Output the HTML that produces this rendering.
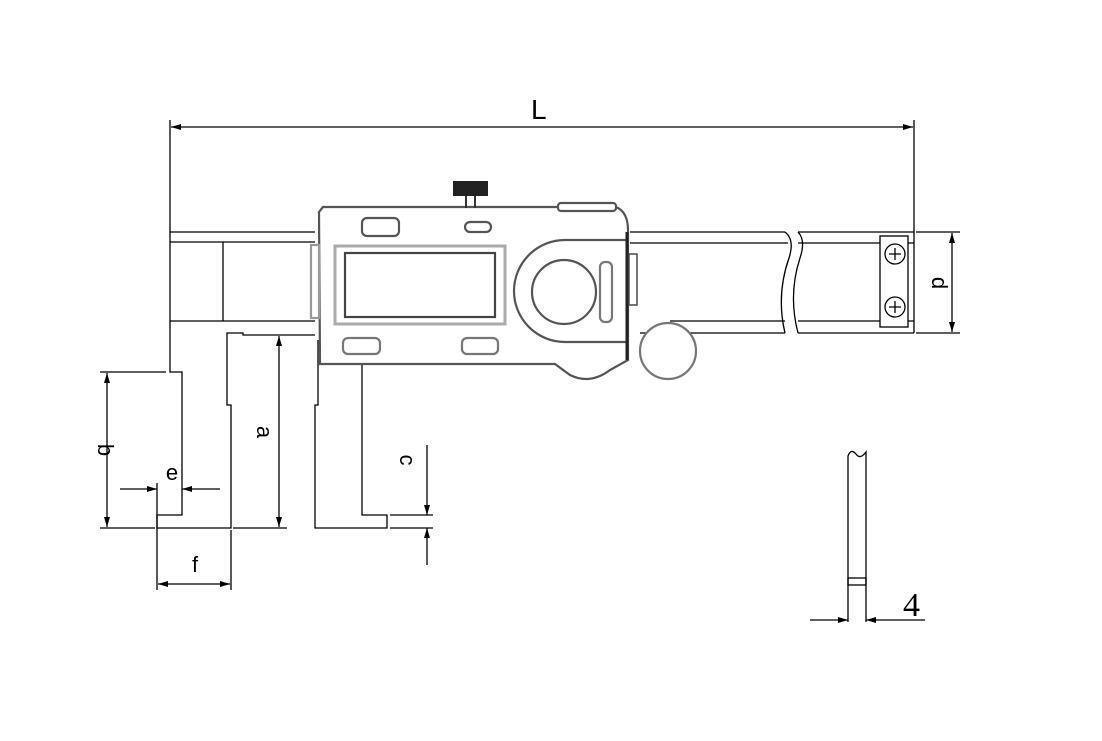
<!DOCTYPE html>
<html><head><meta charset="utf-8"><style>body{margin:0;background:#fff}svg{display:block}</style></head><body>
<svg width="1102" height="741" viewBox="0 0 1102 741" xmlns="http://www.w3.org/2000/svg" font-family="Liberation Sans, sans-serif">
<defs>
<marker id="ar" viewBox="0 0 10 6" refX="10" refY="3" markerWidth="10" markerHeight="6" orient="auto-start-reverse" markerUnits="userSpaceOnUse"><path d="M0,0 L10,3 L0,6 Z" fill="#000"/></marker>
</defs>
<g fill="none" stroke="#000" stroke-width="1.3">
<!-- L dim -->
<line x1="170" y1="120" x2="170" y2="232"/><line x1="914" y1="120" x2="914" y2="232"/>
<line x1="171" y1="127" x2="913" y2="127" marker-start="url(#ar)" marker-end="url(#ar)"/>
<!-- beam left -->
<polyline points="315,232 170,232 170,372 182,372 182,515 157,515 157,528 231,528 231,405 227,405 227,333 243,333 243,335 315,335"/>
<line x1="170" y1="242" x2="315" y2="242"/><line x1="170" y1="321" x2="315" y2="321"/>
<line x1="223" y1="242" x2="223" y2="321"/>
<!-- slider jaw -->
<polyline points="318,340 318,405 315,405 315,528 387,528 387,515 362,515 362,364"/>
<!-- beam right -->
<line x1="630" y1="232" x2="785" y2="232"/><line x1="630" y1="243" x2="788" y2="243"/>
<line x1="670" y1="321" x2="785" y2="321"/><line x1="640" y1="333" x2="785" y2="333"/>
<path d="M785,232 Q795,240 789,258 Q776,295 785,333"/>
<path d="M798,232 Q806,240 800,258 Q788,295 798,333"/>
<line x1="798" y1="232" x2="914" y2="232"/><line x1="798" y1="243" x2="914" y2="243"/>
<line x1="798" y1="321" x2="914" y2="321"/><line x1="798" y1="333" x2="914" y2="333"/>
<line x1="914" y1="232" x2="914" y2="333"/>
<rect x="880" y="236" width="28" height="91" fill="#fff"/>
<circle cx="895" cy="254" r="10"/><path d="M889,254h12M895,248v12"/>
<circle cx="895" cy="307" r="10"/><path d="M889,307h12M895,301v12"/>
<!-- a dim right -->
<line x1="916" y1="232" x2="960" y2="232"/><line x1="916" y1="333" x2="960" y2="333"/>
<line x1="952" y1="233" x2="952" y2="332" marker-start="url(#ar)" marker-end="url(#ar)"/>
</g>
<!-- body -->
<g fill="none" stroke="#555" stroke-width="2.2">
<path d="M323,207 L616,207 Q628,212 628,230 L628,360 L610,370 Q590,385 570,375 L555,364 L320,364 L319,212 Z" fill="#fff"/>
<rect x="311" y="245" width="8" height="73" stroke="#999"/>
<rect x="629" y="254" width="8" height="51" stroke-width="1.6"/>
<rect x="558" y="203" width="58" height="8" rx="3" fill="#fff"/>
<rect x="335" y="246" width="170" height="78" stroke="#aaa" stroke-width="3"/>
<rect x="345" y="253" width="150" height="64" stroke="#444"/>
<rect x="362" y="218" width="37" height="18" rx="5"/>
<rect x="465" y="222" width="26" height="10" rx="5"/>
<rect x="343" y="338" width="37" height="16" rx="5" stroke="#777"/>
<rect x="462" y="338" width="36" height="16" rx="5" stroke="#777"/>
<path d="M627,240 L565,240 A50,50 0 0 0 565,342 L627,342"/>
<circle cx="564" cy="292" r="32"/>
<rect x="600" y="262" width="12" height="60" rx="5" stroke="#777"/>
<circle cx="668" cy="351" r="28" stroke="#777" fill="#fff"/>
<line x1="627" y1="232" x2="627" y2="360" stroke="#222" stroke-width="3"/>
</g>
<rect x="453" y="181" width="35" height="15" fill="#222"/>
<line x1="466" y1="196" x2="466" y2="208" stroke="#333" stroke-width="2"/>
<line x1="475" y1="196" x2="475" y2="208" stroke="#333" stroke-width="2"/>
<g fill="none" stroke="#000" stroke-width="1.3">
<!-- b -->
<line x1="100" y1="372" x2="166" y2="372"/><line x1="100" y1="528" x2="155" y2="528"/>
<line x1="107" y1="373" x2="107" y2="527" marker-start="url(#ar)" marker-end="url(#ar)"/>
<!-- e -->
<line x1="157" y1="483" x2="157" y2="590"/>
<line x1="120" y1="489" x2="157" y2="489" marker-end="url(#ar)"/>
<line x1="220" y1="489" x2="182" y2="489" marker-end="url(#ar)"/>
<!-- f -->
<line x1="231" y1="530" x2="231" y2="590"/>
<line x1="158" y1="584" x2="230" y2="584" marker-start="url(#ar)" marker-end="url(#ar)"/>
<!-- a jaw -->
<line x1="233" y1="528" x2="287" y2="528"/>
<line x1="279" y1="336" x2="279" y2="527" marker-start="url(#ar)" marker-end="url(#ar)"/>
<!-- c -->
<line x1="390" y1="515" x2="433" y2="515"/><line x1="390" y1="528" x2="433" y2="528"/>
<line x1="427" y1="445" x2="427" y2="515" marker-end="url(#ar)"/>
<line x1="427" y1="565" x2="427" y2="528" marker-end="url(#ar)"/>
<!-- 4 piece -->
<path d="M848,622 L848,456 Q851,448 856,454 Q860,460 866,452 L866,622"/>
<rect x="848" y="578" width="18" height="7"/>
<line x1="810" y1="620" x2="848" y2="620" marker-end="url(#ar)"/>
<line x1="925" y1="620" x2="866" y2="620" marker-end="url(#ar)"/>
</g>
<g font-size="22" fill="#000">
<text x="531" y="119" font-size="28" font-weight="100">L</text>
<text transform="translate(98,450) rotate(90)" text-anchor="middle">b</text>
<text x="172" y="480" text-anchor="middle">e</text>
<text x="195" y="572" text-anchor="middle">f</text>
<text transform="translate(257,432) rotate(90)" text-anchor="middle">a</text>
<text transform="translate(400,460) rotate(90)" text-anchor="middle">c</text>
<text transform="translate(932,283) rotate(90)" text-anchor="middle">d</text>
<text x="903" y="616" font-family="Liberation Serif, serif" font-size="34">4</text>
</g>
</svg>
</body></html>
